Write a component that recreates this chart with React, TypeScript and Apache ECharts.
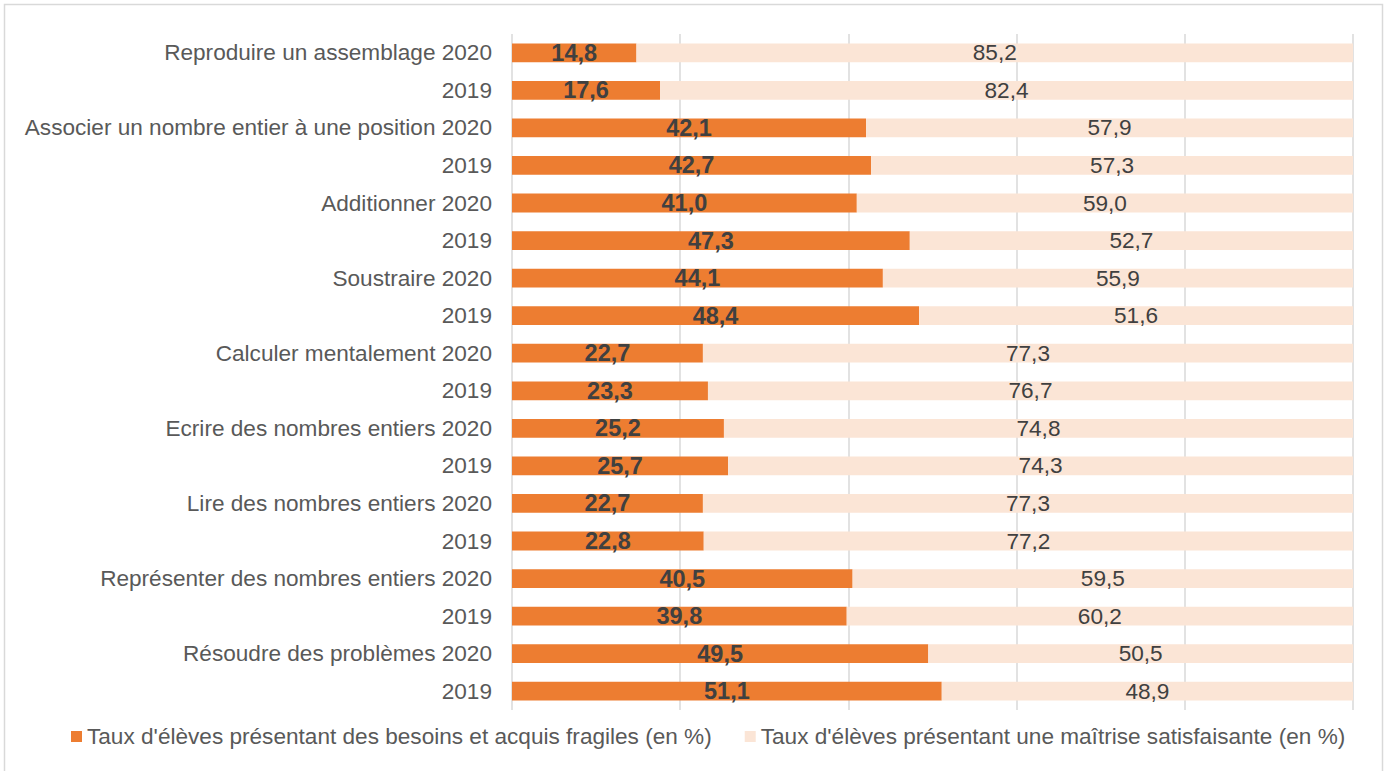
import React, { useEffect, useRef } from "react";
import * as echarts from "echarts";

const categories = [
  "Reproduire un assemblage 2020",
  "2019",
  "Associer un nombre entier à une position 2020",
  "2019",
  "Additionner 2020",
  "2019",
  "Soustraire 2020",
  "2019",
  "Calculer mentalement 2020",
  "2019",
  "Ecrire des nombres entiers 2020",
  "2019",
  "Lire des nombres entiers 2020",
  "2019",
  "Représenter des nombres entiers 2020",
  "2019",
  "Résoudre des problèmes 2020",
  "2019",
];

const fragiles = [14.8, 17.6, 42.1, 42.7, 41.0, 47.3, 44.1, 48.4, 22.7, 23.3, 25.2, 25.7, 22.7, 22.8, 40.5, 39.8, 49.5, 51.1];
const satisfaisante = [85.2, 82.4, 57.9, 57.3, 59.0, 52.7, 55.9, 51.6, 77.3, 76.7, 74.8, 74.3, 77.3, 77.2, 59.5, 60.2, 50.5, 48.9];

const seriesNames = [
  "Taux d'élèves présentant des besoins et acquis fragiles (en %)",
  "Taux d'élèves présentant une maîtrise satisfaisante (en %)",
];

const xTicks = [0, 20, 40, 60, 80, 100];

const fmt = (v: number) => v.toFixed(1).replace(".", ",");

export default function App() {
  const ref = useRef<HTMLDivElement>(null);
  useEffect(() => {
    if (!ref.current) return;
    const chart = echarts.init(ref.current, null, { renderer: "svg" });
    const font = "'Liberation Sans', Arial, sans-serif";
    const fs = 22.6;
    chart.setOption({
      animation: false,
      backgroundColor: "#ffffff",
      textStyle: { fontFamily: font },
      graphic: [
        {
          type: "rect",
          shape: { x: 4.5, y: 4.5, width: 1378, height: 800 },
          style: { fill: "none", stroke: "#D9D9D9", lineWidth: 1.5 },
          silent: true,
        },
      ],
      grid: { left: 512, right: 35, top: 34, bottom: 61, containLabel: false },
      xAxis: {
        type: "value",
        min: xTicks[0],
        max: xTicks[xTicks.length - 1],
        interval: 20,
        axisLabel: { show: false },
        axisLine: { show: false },
        axisTick: { show: false },
        splitLine: { show: true, lineStyle: { color: "#D9D9D9", width: 1.5 } },
      },
      yAxis: {
        type: "category",
        data: categories,
        inverse: true,
        axisLine: { show: false },
        axisTick: { show: false },
        axisLabel: { color: "#595959", fontSize: fs, margin: 20, fontFamily: font },
      },
      legend: {
        bottom: 18,
        left: 66,
        itemWidth: 11,
        itemHeight: 11,
        itemGap: 33,
        icon: "rect",
        textStyle: { color: "#595959", fontSize: fs, fontFamily: font },
        data: seriesNames,
      },
      series: [
        {
          name: seriesNames[0],
          type: "bar",
          stack: "total",
          barCategoryGap: "50%",
          data: fragiles,
          itemStyle: { color: "#ED7D31" },
          label: {
            show: true,
            position: "inside",
            color: "#404040",
            fontWeight: "bold",
            fontSize: 23.5,
            fontFamily: font,
            formatter: (p: any) => fmt(p.value),
          },
        },
        {
          name: seriesNames[1],
          type: "bar",
          stack: "total",
          barCategoryGap: "50%",
          data: satisfaisante,
          itemStyle: { color: "#FBE5D6" },
          label: {
            show: true,
            position: "inside",
            color: "#404040",
            fontSize: fs,
            fontFamily: font,
            formatter: (p: any) => fmt(p.value),
          },
        },
      ],
    });
    return () => chart.dispose();
  }, []);
  return (
    <div
      ref={ref}
      style={{ position: "fixed", left: 0, top: 0, width: 1388, height: 771 }}
    />
  );
}
